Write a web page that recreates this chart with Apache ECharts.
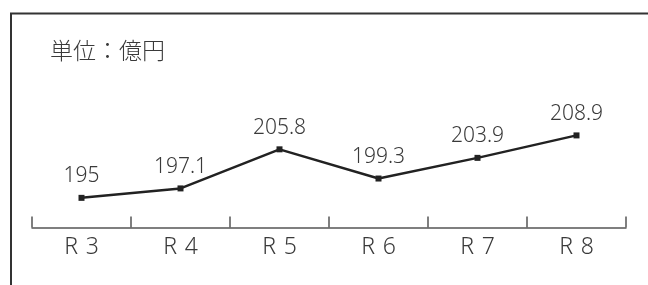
<!DOCTYPE html>
<html>
<head>
<meta charset="utf-8">
<script src="https://cdn.jsdelivr.net/npm/echarts@6/dist/echarts.min.js"></script>
<style>
html, body { margin: 0; padding: 0; background: #fff; }
#chart { width: 648px; height: 285px; }
</style>
</head>
<body>
<div id="chart"></div>
<script>
// fiscal years (Reiwa)
const years = ['R 3', 'R 4', 'R 5', 'R 6', 'R 7', 'R 8'];
// amounts, 100 million yen
const amounts = [195, 197.1, 205.8, 199.3, 203.9, 208.9];
const unitText = '単位：億円';

const latinFont = '"Noto Sans", "Noto Sans CJK JP", sans-serif';
const cjkFont = '"Noto Sans CJK JP", sans-serif';

let chart = echarts.init(document.getElementById('chart'));
chart.setOption({
    animation: false,
    title: {
        text: unitText,
        left: 45,
        top: 34,
        textStyle: {
            color: '#3a3a3a',
            fontSize: 23,
            fontWeight: 300,
            fontFamily: cjkFont
        }
    },
    graphic: [
        {
            type: 'polyline',
            shape: { points: [[11, 285], [11, 13.5], [648, 13.5]] },
            style: { stroke: '#333', lineWidth: 2, fill: null }
        }
    ],
    grid: {
        left: 32,
        right: 22,
        top: 108,
        bottom: 57.5
    },
    xAxis: {
        type: 'category',
        data: years,
        boundaryGap: true,
        axisLine: { lineStyle: { color: '#555', width: 1.5 } },
        axisTick: { show: true, inside: true, length: 11, interval: 0, lineStyle: { color: '#555', width: 1.5 } },
        axisLabel: {
            color: '#3a3a3a',
            fontSize: 23,
            fontWeight: 300,
            margin: 8,
            fontFamily: latinFont,
            formatter: function (v) { return v.replace(' ', '\u2004'); }
        }
    },
    yAxis: {
        type: 'value',
        min: 188.4,
        max: 215,
        show: false,
        splitLine: { show: false }
    },
    series: [
        {
            type: 'line',
            data: amounts,
            symbol: 'rect',
            symbolSize: 6,
            itemStyle: { color: '#222' },
            lineStyle: { color: '#222', width: 2.5 },
            label: {
                show: true,
                position: 'top',
                distance: 8,
                color: '#3a3a3a',
                fontSize: 21,
                fontWeight: 300,
                fontFamily: latinFont
            }
        }
    ]
});
</script>
</body>
</html>
